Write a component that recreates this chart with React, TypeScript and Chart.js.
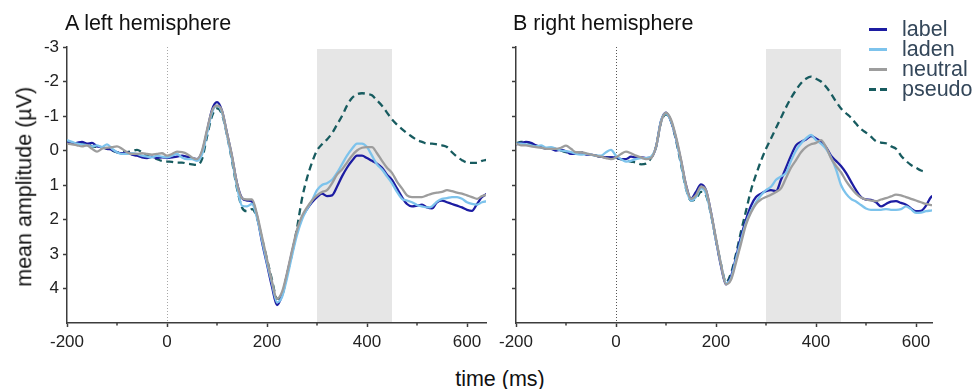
import React, { useEffect, useRef } from "react";
import { Chart, registerables } from "chart.js";

Chart.register(...registerables);

// time axis (ms)
const times = [
  -200, -190, -180, -170, -160, -150, -140, -130, -120, -110,
  -100, -90, -80, -70, -60, -50, -40, -30, -20, -10,
  0, 10, 20, 30, 40, 50, 60, 70, 80, 90,
  100, 110, 120, 130, 140, 150, 160, 170, 180, 190,
  200, 210, 220, 230, 240, 250, 260, 270, 280, 290,
  300, 310, 320, 330, 340, 350, 360, 370, 380, 390,
  400, 410, 420, 430, 440, 450, 460, 470, 480, 490,
  500, 510, 520, 530, 540, 550, 560, 570, 580, 590,
  600, 610, 620, 630, 640,
];

// A left hemisphere (µV)
const leftLabel = [
  -0.25, -0.2, -0.22, -0.25, -0.2, -0.22, -0.12, -0.1, -0.05, -0.02,
  0.05, 0.08, 0.05, 0.12, 0.15, 0.2, 0.22, 0.18, 0.22, 0.2,
  0.22, 0.2, 0.18, 0.15, 0.18, 0.22, 0.25, 0.05, -0.55, -1.18,
  -1.4, -1.15, -0.5, 0.18, 0.95, 1.38, 1.45, 1.48, 1.9, 2.65,
  3.3, 3.95, 4.48, 4.2, 3.6, 2.95, 2.35, 1.95, 1.7, 1.5,
  1.35, 1.25, 1.32, 1.3, 1.05, 0.75, 0.5, 0.3, 0.15, 0.15,
  0.22, 0.3, 0.38, 0.5, 0.7, 0.85, 1.1, 1.35, 1.55, 1.62,
  1.6, 1.57, 1.65, 1.68, 1.5, 1.45, 1.5, 1.55, 1.6, 1.65,
  1.72, 1.75, 1.55, 1.35, 1.25,
];
const leftLaden = [
  -0.3, -0.25, -0.2, -0.18, -0.15, -0.12, -0.15, -0.1, -0.18, -0.05,
  0.05, 0.1, 0.1, 0.08, 0.1, 0.15, 0.18, 0.2, 0.15, 0.18,
  0.2, 0.15, 0.1, 0.2, 0.25, 0.25, 0.3, 0.12, -0.5, -1.1,
  -1.3, -1.1, -0.45, 0.25, 1.05, 1.6, 1.62, 1.55, 1.95, 2.6,
  3.25, 3.85, 4.4, 4.25, 3.7, 3.05, 2.45, 2.0, 1.7, 1.45,
  1.15, 1.0, 0.95, 0.85, 0.65, 0.4, 0.15, -0.05, -0.2, -0.2,
  -0.1, 0.15, 0.4, 0.55, 0.75, 0.95, 1.2, 1.4, 1.45, 1.5,
  1.58, 1.62, 1.65, 1.62, 1.48, 1.4, 1.38, 1.35, 1.35, 1.4,
  1.5, 1.55, 1.57, 1.5, 1.47,
];
const leftNeutral = [
  -0.2, -0.18, -0.15, -0.12, -0.15, -0.05, 0.03, -0.05, -0.08, -0.1,
  -0.12, -0.05, 0.05, 0.1, 0.1, 0.08, 0.1, 0.12, 0.1, 0.08,
  0.15, 0.1, 0.03, 0.05, 0.1, 0.2, 0.25, 0.0, -0.6, -1.15,
  -1.3, -1.15, -0.5, 0.15, 0.95, 1.38, 1.42, 1.42, 1.85, 2.5,
  3.15, 3.8, 4.3, 4.1, 3.55, 2.9, 2.3, 1.9, 1.65, 1.45,
  1.3, 1.2, 1.15, 0.95, 0.7, 0.55, 0.35, 0.15, 0.0, -0.08,
  -0.1, -0.1, 0.08, 0.3, 0.5, 0.65, 0.9, 1.1, 1.3, 1.35,
  1.35, 1.35, 1.3, 1.25, 1.22, 1.2, 1.15, 1.18, 1.22, 1.25,
  1.3, 1.35, 1.4, 1.32, 1.28,
];
const leftPseudo = [
  -0.25, -0.22, -0.2, -0.2, -0.18, -0.12, -0.1, -0.08, -0.05, 0.0,
  0.05, 0.05, 0.05, 0.02, -0.02, 0.05, 0.15, 0.2, 0.25, 0.3,
  0.32, 0.33, 0.35, 0.35, 0.38, 0.4, 0.42, 0.25, -0.4, -1.0,
  -1.22, -1.05, -0.45, 0.3, 1.1, 1.65, 1.76, 1.7, 1.95, 2.55,
  3.15, 3.75, 4.3, 4.2, 3.6, 3.0, 2.25, 1.4, 0.8, 0.35,
  0.0, -0.18, -0.32, -0.5, -0.75, -1.0, -1.3, -1.52, -1.63, -1.66,
  -1.64, -1.6, -1.45, -1.3, -1.1, -0.9, -0.75, -0.62, -0.5, -0.4,
  -0.3, -0.25, -0.2, -0.2, -0.18, -0.15, -0.1, 0.05, 0.18, 0.28,
  0.35, 0.36, 0.36, 0.3, 0.27,
];

// B right hemisphere (µV)
const rightLabel = [
  -0.18, -0.22, -0.25, -0.22, -0.15, -0.1, -0.05, -0.05, 0.0, -0.02,
  0.02, 0.1, 0.1, 0.05, 0.12, 0.12, 0.15, 0.18, 0.2, 0.2,
  0.2, 0.25, 0.25, 0.18, 0.2, 0.2, 0.22, 0.2, -0.1, -0.85,
  -1.1, -0.85, -0.35, 0.3, 1.0, 1.4, 1.2, 0.98, 1.15, 1.8,
  2.6, 3.35, 3.88, 3.65, 3.1, 2.5, 2.0, 1.6, 1.35, 1.25,
  1.18, 1.15, 1.18, 0.85, 0.5, 0.15, -0.15, -0.25, -0.32, -0.42,
  -0.35, -0.25, -0.1, 0.15, 0.3, 0.45, 0.65, 0.9, 1.15, 1.35,
  1.42, 1.43, 1.5, 1.62, 1.55, 1.48, 1.47, 1.52, 1.57, 1.68,
  1.76, 1.75, 1.6, 1.35, 1.3,
];
const rightLaden = [
  -0.2, -0.2, -0.18, -0.15, -0.12, -0.15, -0.08, -0.1, -0.05, 0.0,
  0.02, 0.05, 0.1, 0.12, 0.1, 0.12, 0.15, 0.15, 0.05, -0.02,
  0.15, 0.25, 0.32, 0.3, 0.25, 0.22, 0.22, 0.18, -0.1, -0.85,
  -1.08, -0.85, -0.35, 0.35, 1.1, 1.45, 1.35, 1.1, 1.25, 1.85,
  2.6, 3.3, 3.85, 3.7, 3.15, 2.6, 2.1, 1.75, 1.5, 1.3,
  1.15, 1.05, 0.85, 0.75, 0.65, 0.3, 0.0, -0.2, -0.35, -0.45,
  -0.3, -0.2, -0.05, 0.2, 0.55, 1.0, 1.25, 1.4, 1.48, 1.58,
  1.68, 1.72, 1.72, 1.72, 1.7, 1.72, 1.72, 1.7, 1.62, 1.7,
  1.81, 1.8, 1.76, 1.74, 1.72,
];
const rightNeutral = [
  -0.2, -0.15, -0.15, -0.12, -0.1, -0.08, -0.05, -0.05, -0.05, -0.08,
  -0.14, -0.05, 0.05, 0.05, 0.08, 0.12, 0.15, 0.18, 0.22, 0.25,
  0.2, 0.1, 0.03, 0.08, 0.15, 0.2, 0.25, 0.22, -0.1, -0.82,
  -1.1, -0.9, -0.4, 0.25, 1.0, 1.4, 1.3, 1.05, 1.15, 1.8,
  2.55, 3.3, 3.88, 3.75, 3.25, 2.7, 2.15, 1.8, 1.55, 1.42,
  1.35, 1.28, 1.2, 1.1, 0.8, 0.5, 0.28, 0.05, -0.1, -0.18,
  -0.22, -0.3, -0.1, 0.22, 0.45, 0.63, 0.88, 1.08, 1.25, 1.36,
  1.42, 1.45, 1.47, 1.42, 1.38, 1.33, 1.28, 1.3, 1.35, 1.4,
  1.45, 1.5, 1.55, 1.58, 1.6,
];
const rightPseudo = [
  -0.2, -0.25, -0.25, -0.2, -0.15, -0.1, -0.08, -0.05, -0.05, 0.0,
  0.05, 0.08, 0.08, 0.1, 0.1, 0.12, 0.15, 0.18, 0.2, 0.2,
  0.22, 0.25, 0.28, 0.32, 0.35, 0.4, 0.38, 0.22, -0.1, -0.82,
  -1.05, -0.85, -0.3, 0.4, 1.1, 1.45, 1.4, 1.2, 1.3, 1.85,
  2.6, 3.3, 3.82, 3.55, 3.0, 2.35, 1.75, 1.15, 0.7, 0.3,
  -0.05, -0.35, -0.65, -0.95, -1.25, -1.52, -1.75, -1.95, -2.08, -2.14,
  -2.08, -2.0, -1.85, -1.65, -1.42, -1.22, -1.08, -0.95, -0.78, -0.62,
  -0.52, -0.4, -0.27, -0.23, -0.21, -0.12, -0.05, 0.15, 0.3, 0.42,
  0.5, 0.58, 0.62, null, null,
];

const seriesNames = ["label", "laden", "neutral", "pseudo"];
const seriesColors = ["#1c1ca2", "#7dc3ec", "#9d9d9d", "#175b5f"];
const xTickValues = [-200, 0, 200, 400, 600];
const xMinorTickValues = [-100, 100, 300, 500];
const yTickValues = [-3, -2, -1, 0, 1, 2, 3, 4];
const analysisWindow = [300, 450];

const FONT = '"Liberation Sans", Arial, Helvetica, sans-serif';
const AXIS = "#3c3c3c";
const CANVAS_H = 360;

const decorPlugin = {
  id: "erpDecor",
  beforeDraw(chart: any, _args: any, opts: any) {
    const { ctx, chartArea, scales } = chart;
    const xs = scales.x;
    ctx.save();
    const x0 = xs.getPixelForValue(opts.win[0]);
    const x1 = xs.getPixelForValue(opts.win[1]);
    ctx.fillStyle = "#e6e6e6";
    ctx.fillRect(x0, chartArea.top + 2, x1 - x0, chartArea.bottom - chartArea.top - 2);
    const zx = Math.round(xs.getPixelForValue(0)) + 0.5;
    ctx.strokeStyle = opts.zeroColor;
    ctx.lineWidth = 1;
    ctx.setLineDash([1, 2]);
    ctx.beginPath();
    ctx.moveTo(zx, chartArea.top);
    ctx.lineTo(zx, chartArea.bottom);
    ctx.stroke();
    ctx.restore();
  },
  afterDraw(chart: any) {
    const { ctx, chartArea, scales } = chart;
    const xs = scales.x;
    ctx.save();
    ctx.strokeStyle = AXIS;
    ctx.lineWidth = 1.5;
    xMinorTickValues.forEach((v) => {
      const px = xs.getPixelForValue(v);
      ctx.beginPath();
      ctx.moveTo(px, chartArea.bottom);
      ctx.lineTo(px, chartArea.bottom + 2.5);
      ctx.stroke();
    });
    ctx.restore();
  },
};

function buildConfig(
  series: (number | null)[][],
  xMax: number,
  showYLabels: boolean,
  zeroColor: string,
  yWidth: number,
  padRight: number
): any {
  const drawOrder = [2, 1, 0, 3];
  return {
    type: "line",
    data: {
      datasets: series.map((vals, i) => ({
        label: seriesNames[i],
        data: times.map((t, k) => ({ x: t, y: vals[k] })),
        borderColor: seriesColors[i],
        backgroundColor: seriesColors[i],
        borderWidth: 2.3,
        borderDash: i === 3 ? [7, 4.5] : [],
        pointRadius: 0,
        fill: false,
        cubicInterpolationMode: "monotone",
        order: drawOrder[i],
        spanGaps: false,
      })),
    },
    options: {
      responsive: false,
      animation: false,
      events: [],
      layout: { padding: { top: 47, right: padRight, left: 0, bottom: 0 } },
      plugins: {
        legend: { display: false },
        tooltip: { enabled: false },
        erpDecor: { win: analysisWindow, zeroColor },
      },
      scales: {
        x: {
          type: "linear",
          min: -200,
          max: xMax,
          afterBuildTicks: (s: any) => {
            s.ticks = xTickValues.map((v) => ({ value: v }));
          },
          afterFit: (s: any) => {
            s.height = CANVAS_H - 323;
          },
          grid: {
            drawOnChartArea: false,
            drawTicks: true,
            tickLength: 4,
            tickColor: AXIS,
            tickWidth: 1.5,
          },
          border: { display: true, color: AXIS, width: 1.5 },
          ticks: {
            font: { family: FONT, size: 17 },
            color: "#222",
            padding: 5,
            maxRotation: 0,
            autoSkip: false,
            callback: (v: any) => String(v),
          },
        },
        y: {
          type: "linear",
          reverse: true,
          min: -3,
          max: 5,
          afterBuildTicks: (s: any) => {
            s.ticks = yTickValues.map((v) => ({ value: v }));
          },
          afterFit: (s: any) => {
            s.width = yWidth;
          },
          grid: {
            drawOnChartArea: false,
            drawTicks: true,
            tickLength: 4,
            tickColor: AXIS,
            tickWidth: 1.5,
          },
          border: { display: true, color: AXIS, width: 1.5 },
          ticks: {
            font: { family: FONT, size: 17 },
            color: "#222",
            padding: 4,
            autoSkip: false,
            callback: (v: any) => (showYLabels ? String(v) : ""),
          },
        },
      },
    },
    plugins: [decorPlugin],
  };
}

function Panel(props: {
  series: (number | null)[][];
  xMax: number;
  showY: boolean;
  zeroColor: string;
  yWidth: number;
  padRight: number;
  left: number;
  width: number;
}) {
  const ref = useRef<HTMLCanvasElement | null>(null);
  useEffect(() => {
    if (!ref.current) return;
    const chart = new Chart(
      ref.current,
      buildConfig(props.series, props.xMax, props.showY, props.zeroColor, props.yWidth, props.padRight)
    );
    return () => chart.destroy();
  }, []);
  return (
    <canvas
      ref={ref}
      width={props.width}
      height={CANVAS_H}
      style={{ position: "absolute", left: props.left, top: 0, width: props.width, height: CANVAS_H }}
    />
  );
}

const textBase: React.CSSProperties = {
  position: "absolute",
  fontFamily: FONT,
  fontSize: "21.5px",
  lineHeight: "21.5px",
  whiteSpace: "nowrap",
  color: "#111",
};

export default function App() {
  const legendTops = [19, 39, 59, 79];
  return (
    <div
      style={{
        position: "absolute",
        left: 0,
        top: 0,
        width: 975,
        height: 389,
        background: "#fff",
        overflow: "hidden",
      }}
    >
      <Panel
        series={[leftLabel, leftLaden, leftNeutral, leftPseudo]}
        xMax={638}
        showY={true}
        zeroColor="#a8a8a8"
        yWidth={67}
        padRight={4}
        left={0}
        width={490}
      />
      <Panel
        series={[rightLabel, rightLaden, rightNeutral, rightPseudo]}
        xMax={632}
        showY={false}
        zeroColor="#555"
        yWidth={26}
        padRight={43}
        left={490}
        width={485}
      />
      <div style={{ ...textBase, left: 65, top: 12.5 }}>A left hemisphere</div>
      <div style={{ ...textBase, left: 513, top: 12.5 }}>B right hemisphere</div>
      <div
        style={{
          ...textBase,
          width: 300,
          textAlign: "center",
          left: 24.5 - 150,
          top: 187 - 10.75,
          transform: "rotate(-90deg)",
        }}
      >
        mean amplitude (µV)
      </div>
      <div style={{ ...textBase, width: 200, textAlign: "center", left: 400, top: 369.3 }}>time (ms)</div>
      {seriesNames.map((name, i) => (
        <div key={name} style={{ position: "absolute", left: 869, top: legendTops[i], height: 20, width: 106 }}>
          {i === 3 ? (
            <>
              <div style={{ position: "absolute", left: 0, top: 8.5, width: 7, height: 3, background: seriesColors[i] }} />
              <div style={{ position: "absolute", left: 11, top: 8.5, width: 7, height: 3, background: seriesColors[i] }} />
            </>
          ) : (
            <div style={{ position: "absolute", left: 0, top: 8.5, width: 18, height: 3, background: seriesColors[i] }} />
          )}
          <div
            style={{
              ...textBase,
              left: 33,
              top: 0,
              lineHeight: "20px",
              color: "#34475a",
            }}
          >
            {name}
          </div>
        </div>
      ))}
    </div>
  );
}
